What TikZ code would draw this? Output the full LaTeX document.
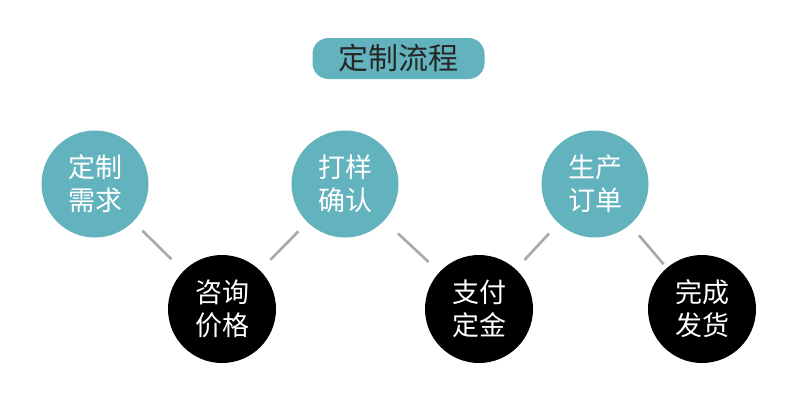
\documentclass[tikz,border=0pt]{standalone}
\usepackage{fontspec}
\newfontfamily\cjk{Noto Sans CJK SC}
\definecolor{teal1}{HTML}{63B3BE}
\definecolor{linegray}{HTML}{A8A8A8}
\begin{document}
\begin{tikzpicture}[x=1pt,y=-1pt,
  tealc/.style={circle,fill=teal1,minimum size=107pt,inner sep=0pt,outer sep=0pt,text=white,font=\cjk\fontsize{27}{33}\selectfont,align=center},
  blackc/.style={circle,fill=black,minimum size=108pt,inner sep=0pt,outer sep=0pt,text=white,font=\cjk\fontsize{27}{33}\selectfont,align=center},
  conn/.style={draw=linegray,line width=2.6pt}]
\useasboundingbox (0,0) rectangle (800,400);
\fill[white] (0,0) rectangle (800,400);
\node[fill=teal1,rounded corners=16pt,minimum width=172pt,minimum height=41pt,inner sep=0pt,text=black!85,font=\cjk\fontsize{30}{30}\selectfont] (title) at (398.5,58.5) {定制流程};
\node[tealc] (a) at (95,184) {定制\\需求};
\node[blackc] (b) at (222,309) {咨询\\价格};
\node[tealc] (c) at (345,184) {打样\\确认};
\node[blackc] (d) at (479,309) {支付\\定金};
\node[tealc] (e) at (595,184) {生产\\订单};
\node[blackc] (f) at (702,309) {完成\\发货};
\draw[conn,shorten <=13pt,shorten >=17pt] (a) -- (b);
\draw[conn,shorten <=15pt,shorten >=13pt] (b) -- (c);
\draw[conn,shorten <=19pt,shorten >=15pt] (c) -- (d);
\draw[conn,shorten <=13pt,shorten >=14pt] (d) -- (e);
\draw[conn,shorten <=14pt,shorten >=5pt] (e) -- (f);
\end{tikzpicture}
\end{document}
